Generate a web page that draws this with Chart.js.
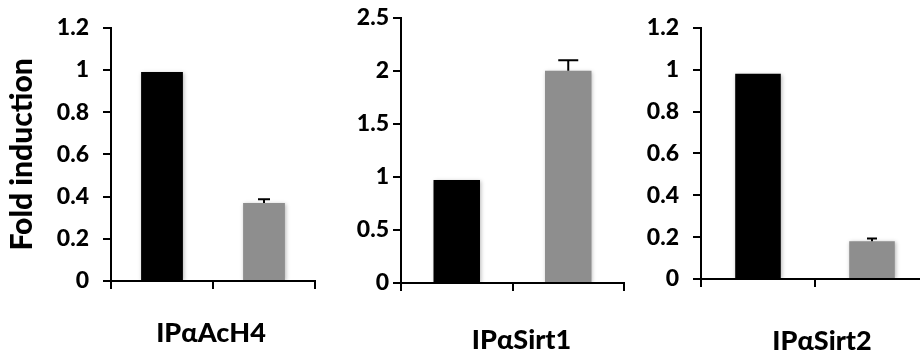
<!DOCTYPE html>
<html>
<head>
<meta charset="utf-8">
<script src="https://cdn.jsdelivr.net/npm/chart.js@4/dist/chart.umd.min.js"></script>
<style>
  html, body { margin: 0; padding: 0; background: #fff; width: 920px; height: 355px; overflow: hidden; }
  .panel { position: absolute; top: 0; height: 355px; }
</style>
</head>
<body>
<div class="panel" style="left:0px;width:320px"><canvas id="c1"></canvas></div>
<div class="panel" style="left:330px;width:300px"><canvas id="c2"></canvas></div>
<div class="panel" style="left:630px;width:310px"><canvas id="c3"></canvas></div>
<script>
// Two groups per panel: black = first group, grey = second group
const groups = ['Group 1', 'Group 2'];
const barColors = ['#000000', '#8e8e8e'];

// Fold induction (mean) and upper error per antibody
const acH4Values  = [0.99, 0.37];
const acH4Errors  = [0, 0.018];
const sirt1Values = [0.97, 2.0];
const sirt1Errors = [0, 0.10];
const sirt2Values = [0.98, 0.18];
const sirt2Errors = [0, 0.014];

// Y-axis tick labels
const ticksTo12 = [0, 0.2, 0.4, 0.6, 0.8, 1, 1.2];
const ticksTo25 = [0, 0.5, 1, 1.5, 2, 2.5];

const captions = ['IPαAcH4', 'IPαSirt1', 'IPαSirt2'];
const yTitle = 'Fold induction';

const FONT = 'Lato, "Open Sans", sans-serif';
const WEIGHT = '900';

// Soft shadow under the bars, then plus-only error bars with a cap
const barDecor = {
  id: 'barDecor',
  beforeDatasetsDraw(chart) {
    const ctx = chart.ctx;
    ctx.save();
    ctx.shadowColor = 'rgba(0,0,0,0.28)';
    ctx.shadowBlur = 4;
    ctx.shadowOffsetX = 1;
    ctx.shadowOffsetY = 1;
  },
  afterDatasetsDraw(chart, args, opts) {
    const ctx = chart.ctx;
    ctx.restore();
    const ds = chart.data.datasets[0];
    const errs = opts.errors || [];
    const y = chart.scales.y;
    const meta = chart.getDatasetMeta(0);
    ctx.save();
    ctx.strokeStyle = '#000';
    ctx.lineWidth = 2;
    meta.data.forEach((bar, i) => {
      const e = errs[i];
      if (!e) return;
      const top = y.getPixelForValue(ds.data[i] + e);
      ctx.beginPath();
      ctx.moveTo(bar.x, bar.y);
      ctx.lineTo(bar.x, top);
      ctx.moveTo(bar.x - opts.capHalf, top);
      ctx.lineTo(bar.x + opts.capHalf, top);
      ctx.stroke();
    });
    ctx.restore();
  }
};

// Antibody caption under the x axis
const caption = {
  id: 'caption',
  afterDraw(chart, args, opts) {
    const ctx = chart.ctx;
    const ca = chart.chartArea;
    ctx.save();
    ctx.font = WEIGHT + ' 27px ' + FONT;
    ctx.fillStyle = '#000';
    ctx.textAlign = 'center';
    ctx.textBaseline = 'alphabetic';
    ctx.fillText(opts.text, (ca.left + ca.right) / 2 + opts.dx, opts.baseline);
    ctx.restore();
  }
};

function makePanel(id, values, errors, ticks, g) {
  return new Chart(document.getElementById(id), {
    type: 'bar',
    data: {
      labels: groups,
      datasets: [{
        data: values,
        backgroundColor: barColors,
        borderWidth: 0,
        barPercentage: g.barPct,
        categoryPercentage: 1
      }]
    },
    plugins: [barDecor, caption],
    options: {
      responsive: true,
      maintainAspectRatio: false,
      animation: false,
      events: [],
      layout: { autoPadding: false, padding: { top: g.top, right: g.right, left: 0, bottom: 0 } },
      plugins: {
        legend: { display: false },
        tooltip: { enabled: false },
        barDecor: { errors: errors, capHalf: g.capHalf },
        caption: { text: g.caption, dx: g.dx, baseline: g.baseline }
      },
      scales: {
        x: {
          ticks: { display: false },
          grid: { display: true, drawOnChartArea: false, drawTicks: true, tickLength: 8, color: '#000', lineWidth: 2 },
          border: { display: true, color: '#000', width: 2 },
          afterFit(scale) { scale.height = g.xHeight; }
        },
        y: {
          min: ticks[0],
          max: ticks[ticks.length - 1],
          afterBuildTicks(scale) { scale.ticks = ticks.map(v => ({ value: v })); },
          ticks: {
            color: '#000',
            padding: g.tickPad,
            font: { family: FONT, size: 23, weight: WEIGHT },
            callback: v => String(v)
          },
          grid: { display: true, drawOnChartArea: false, drawTicks: true, tickLength: 8, color: '#000', lineWidth: 2 },
          border: { display: true, color: '#000', width: 2 },
          title: {
            display: !!g.yTitle,
            text: g.yTitle || '',
            color: '#000',
            font: { family: FONT, size: 30, weight: WEIGHT },
            padding: { top: 4, bottom: 0 }
          },
          afterFit(scale) { scale.width = g.axisX; }
        }
      }
    }
  });
}

makePanel('c1', acH4Values, acH4Errors, ticksTo12, {
  axisX: 111, top: 18, right: 5, xHeight: 74, barPct: 0.41, tickPad: 14,
  capHalf: 6, caption: captions[0], dx: -2, baseline: 342, yTitle: yTitle
});
makePanel('c2', sirt1Values, sirt1Errors, ticksTo25, {
  axisX: 71, top: 9, right: 6, xHeight: 72, barPct: 0.417, tickPad: 4,
  capHalf: 10, caption: captions[1], dx: 9, baseline: 349
});
makePanel('c3', sirt2Values, sirt2Errors, ticksTo12, {
  axisX: 71, top: 7, right: 11, xHeight: 76, barPct: 0.40, tickPad: 14,
  capHalf: 5, caption: captions[2], dx: 7, baseline: 350
});
</script>
</body>
</html>
